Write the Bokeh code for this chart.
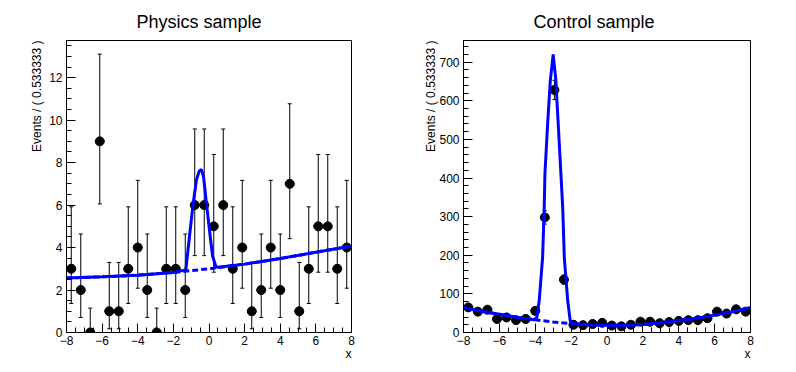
import numpy as np
from bokeh.plotting import figure
from bokeh.models import Range1d, Title, Whisker, ColumnDataSource, TeeHead, FixedTicker
from bokeh.layouts import row
from bokeh.embed import file_html
from bokeh.resources import INLINE

FONT = "Liberation Sans"

# ---------------- data ----------------
x_min, x_max, n_bins = -8.0, 8.0, 30
bin_centers = [-7.7333, -7.2, -6.6667, -6.1333, -5.6, -5.0667, -4.5333, -4.0,
               -3.4667, -2.9333, -2.4, -1.8667, -1.3333, -0.8, -0.2667, 0.2667,
               0.8, 1.3333, 1.8667, 2.4, 2.9333, 3.4667, 4.0, 4.5333, 5.0667,
               5.6, 6.1333, 6.6667, 7.2, 7.7333]

phys_counts = [3, 2, 0, 9, 1, 1, 3, 4, 2, 0, 3, 3, 2, 6, 6, 5, 6, 3, 4, 1,
               2, 4, 2, 7, 1, 3, 5, 5, 3, 4]
ctl_counts = [65, 54, 59, 35, 39, 32, 35, 56, 298, 628, 137, 20, 19, 22, 25,
              18, 16, 20, 28, 28, 24, 27, 30, 32, 32, 37, 54, 49, 60, 54]

# Poisson 68% intervals (lower, upper) by count
poisson_lo = {0: 0.0, 1: 0.173, 2: 0.708, 3: 1.367, 4: 2.086, 5: 2.840,
              6: 3.620, 7: 4.419, 9: 6.055}
poisson_hi = {0: 1.148, 1: 3.300, 2: 4.638, 3: 5.918, 4: 7.163, 5: 8.382,
              6: 9.584, 7: 10.771, 9: 13.108}

# fitted curves
phys_tot_x = [-8, -6, -4, -2, -1.3, -1.08, -0.89, -0.7, -0.55, -0.42, -0.3,
              -0.14, 0.05, 0.2, 0.38, 0.5, 2, 4, 6, 8]
phys_tot_y = [2.57, 2.62, 2.70, 2.83, 2.95, 4.65, 6.06, 7.2, 7.6, 7.67, 7.3,
              6.06, 4.65, 3.6, 3.12, 3.07, 3.22, 3.48, 3.78, 4.07]
phys_bkg_x = [-8, -6, -4, -2, 0, 2, 4, 6, 8]
phys_bkg_y = [2.57, 2.62, 2.70, 2.83, 3.00, 3.22, 3.48, 3.78, 4.07]

ctl_tot_x = [-8, -7, -6, -5, -4.06, -3.91, -3.78, -3.59, -3.50, -3.46, -3.31,
             -3.16, -3.0, -2.85, -2.72, -2.57, -2.47, -2.38, -2.19, -2.05,
             -1.91, -1, 0, 1, 2, 3, 4, 5, 6, 7, 8]
ctl_tot_y = [64, 55, 47, 39, 33, 39, 82, 194, 324, 411, 540, 652, 720, 652,
             540, 411, 324, 194, 82, 30, 23, 20, 19, 19, 21, 25, 31, 37, 45,
             54, 64]
ctl_bkg_x = [-8, -7, -6, -5, -4, -3, -2, -1, 0, 1, 2, 3, 4, 5, 6, 7, 8]
ctl_bkg_y = [64, 55, 47, 39, 33, 27, 23, 20, 19, 19, 21, 25, 31, 37, 45, 54, 64]

titles = ["Physics sample", "Control sample"]
y_title = "Events / ( 0.533333 )"
x_title = "x"


def make_panel(counts, lo, hi, tot_x, tot_y, bkg_x, bkg_y, ymax, yticks,
               yminor, title, border_left, frame_w, border_right, ytitle_standoff):
    W = border_left + frame_w + border_right
    p = figure(width=W, height=370, output_backend="svg", toolbar_location=None,
               x_range=Range1d(x_min, x_max), y_range=Range1d(0, ymax),
               min_border_left=border_left, min_border_right=border_right,
               min_border_top=40, min_border_bottom=38)
    p.grid.visible = False
    p.outline_line_color = "black"
    p.outline_line_width = 1
    p.background_fill_color = "white"
    p.border_fill_color = "white"

    p.title.text = title
    p.title.align = "left"
    p.title.offset = 70
    p.title.text_font = FONT
    p.title.text_font_size = "18px"
    p.title.text_font_style = "normal"
    p.title.text_color = "black"
    p.title.standoff = 17

    xt = list(range(-8, 9, 2))
    xminor = list(np.arange(-8, 8.01, 0.5))
    p.xaxis.ticker = FixedTicker(ticks=xt, minor_ticks=xminor)
    p.yaxis.ticker = FixedTicker(ticks=yticks, minor_ticks=yminor)
    for ax in (p.xaxis, p.yaxis):
        ax.major_tick_in = 9
        ax.major_tick_out = 0
        ax.minor_tick_in = 5
        ax.minor_tick_out = 0
        ax.major_label_text_font = FONT
        ax.major_label_text_font_size = "12px"
        ax.major_label_text_color = "black"
        ax.axis_line_color = "black"
        ax.major_tick_line_color = "black"
        ax.minor_tick_line_color = "black"
    p.xaxis.major_label_standoff = 3
    p.yaxis.major_label_standoff = 4

    p.add_layout(Title(text=y_title, align="right", text_font=FONT,
                       text_font_size="12px", text_font_style="normal",
                       text_color="black", standoff=ytitle_standoff), "left")
    p.add_layout(Title(text=x_title, align="right", text_font=FONT,
                       text_font_size="12px", text_font_style="normal",
                       text_color="black", standoff=-5), "below")

    bw = (x_max - x_min) / n_bins
    src = ColumnDataSource(dict(
        x=bin_centers, y=counts, lo=lo, hi=hi,
        x0=[c - bw / 2 for c in bin_centers],
        x1=[c + bw / 2 for c in bin_centers]))
    wk = Whisker(base="x", lower="lo", upper="hi", source=src,
                 dimension="height", line_color="black", line_width=1,
                 upper_head=TeeHead(size=4, line_color="black", line_width=1),
                 lower_head=TeeHead(size=4, line_color="black", line_width=1))
    p.add_layout(wk)
    p.segment(x0="x0", x1="x1", y0="y", y1="y", source=src,
              line_color="black", line_width=1)
    p.scatter("x", "y", source=src, size=9, color="black")

    p.line(tot_x, tot_y, line_color="#0000ff", line_width=3)
    p.line(bkg_x, bkg_y, line_color="#0000ff", line_width=3,
           line_dash="6 3")
    return p


phys_lo_abs = [poisson_lo[c] for c in phys_counts]
phys_hi_abs = [poisson_hi[c] for c in phys_counts]

ctl_err = np.sqrt(np.array(ctl_counts, dtype=float))
ctl_lo_abs = list(np.array(ctl_counts) - ctl_err)
ctl_hi_abs = list(np.array(ctl_counts) + ctl_err)

p1 = make_panel(phys_counts, phys_lo_abs, phys_hi_abs, phys_tot_x, phys_tot_y,
                phys_bkg_x, phys_bkg_y, 13.75, list(range(0, 13, 2)),
                list(np.arange(0, 13.76, 0.5)), titles[0], 66, 285, 46, 5)
p2 = make_panel(ctl_counts, ctl_lo_abs, ctl_hi_abs, ctl_tot_x, ctl_tot_y,
                ctl_bkg_x, ctl_bkg_y, 756, list(range(0, 701, 100)),
                list(range(0, 756, 20)), titles[1], 66, 287, 30, -3)

layout = row(p1, p2)
open("out.html", "w").write(file_html(layout, INLINE))
